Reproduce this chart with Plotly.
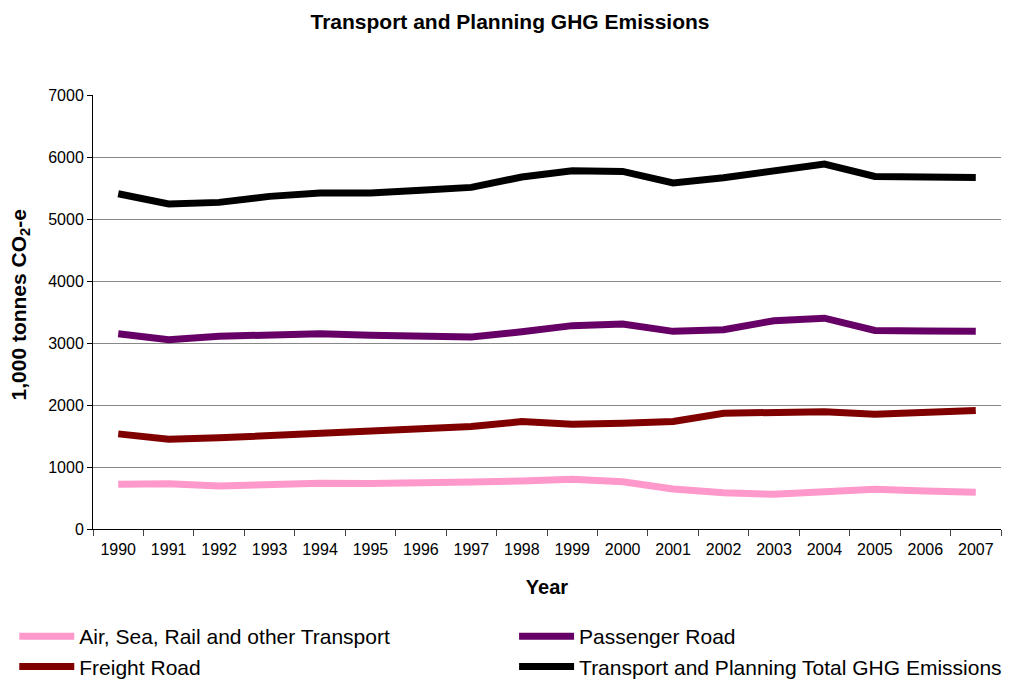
import plotly.graph_objects as go

years = [str(y) for y in range(1990, 2008)]
air_sea_rail = [721, 731, 694, 726, 737, 732, 735, 758, 774, 801, 763, 645, 586, 560, 602, 640, 611, 591]
freight_road = [1534, 1449, 1470, 1502, 1535, 1562, 1600, 1652, 1733, 1690, 1706, 1733, 1867, 1867, 1893, 1850, 1875, 1910]
passenger_road = [3150, 3053, 3108, 3134, 3150, 3123, 3113, 3097, 3180, 3280, 3305, 3188, 3215, 3360, 3400, 3203, 3195, 3188]
total = [5408, 5242, 5268, 5365, 5419, 5419, 5462, 5510, 5677, 5779, 5768, 5581, 5666, 5773, 5887, 5687, 5671, 5671]

series = [
    ("Air, Sea, Rail and other Transport", air_sea_rail, "#FF99CC", "legend"),
    ("Freight Road", freight_road, "#800000", "legend"),
    ("Passenger Road", passenger_road, "#660066", "legend2"),
    ("Transport and Planning Total GHG Emissions", total, "#000000", "legend2"),
]

fig = go.Figure()
for name, vals, color, leg in series:
    fig.add_trace(go.Scatter(x=years, y=vals, name=name, mode="lines", legend=leg,
                             legendgroup=name, line=dict(color=color, width=7)))

font = "Liberation Sans, Arial, sans-serif"
legend_common = dict(orientation="v", xref="container", yref="container",
                     xanchor="left", yanchor="top", itemwidth=55,
                     font=dict(size=21), tracegroupgap=14, traceorder="normal",
                     bgcolor="rgba(0,0,0,0)")
fig.update_layout(
    width=1020, height=684,
    margin=dict(l=93, r=19, t=95, b=155, autoexpand=False),
    paper_bgcolor="white", plot_bgcolor="white",
    font=dict(family=font, color="black", size=15),
    title=dict(text="<b>Transport and Planning GHG Emissions</b>", x=0.5, xanchor="center",
               xref="container", y=1 - 22 / 684, yanchor="middle", font=dict(size=21)),
    xaxis=dict(type="category", range=[-0.5, 17.5], tickson="boundaries",
               ticks="outside", ticklen=6, tickcolor="#444444", showline=True, linecolor="black",
               linewidth=1, showgrid=False, tickfont=dict(size=16), tickangle=0,
               ticklabelstandoff=6,
               title=dict(text="<b>Year</b>", font=dict(size=20), standoff=22)),
    yaxis=dict(range=[0, 7000], dtick=1000, ticks="outside", ticklen=5, tickcolor="black",
               showline=True, linecolor="black", linewidth=1, showgrid=True,
               gridcolor="#888888", gridwidth=1, tickfont=dict(size=16), zeroline=False),
    annotations=[dict(text="<b>1,000 tonnes CO<sub>2</sub>-e</b>", textangle=-90,
                      xref="paper", yref="paper", x=(20 - 93) / 908, y=0.515,
                      xanchor="center", yanchor="middle", showarrow=False,
                      font=dict(size=21))],
    legend=dict(**legend_common, x=0.014, y=1 - 616 / 684),
    legend2=dict(**legend_common, x=0.504, y=1 - 616 / 684),
    showlegend=True,
)

fig.write_html("out.html")
